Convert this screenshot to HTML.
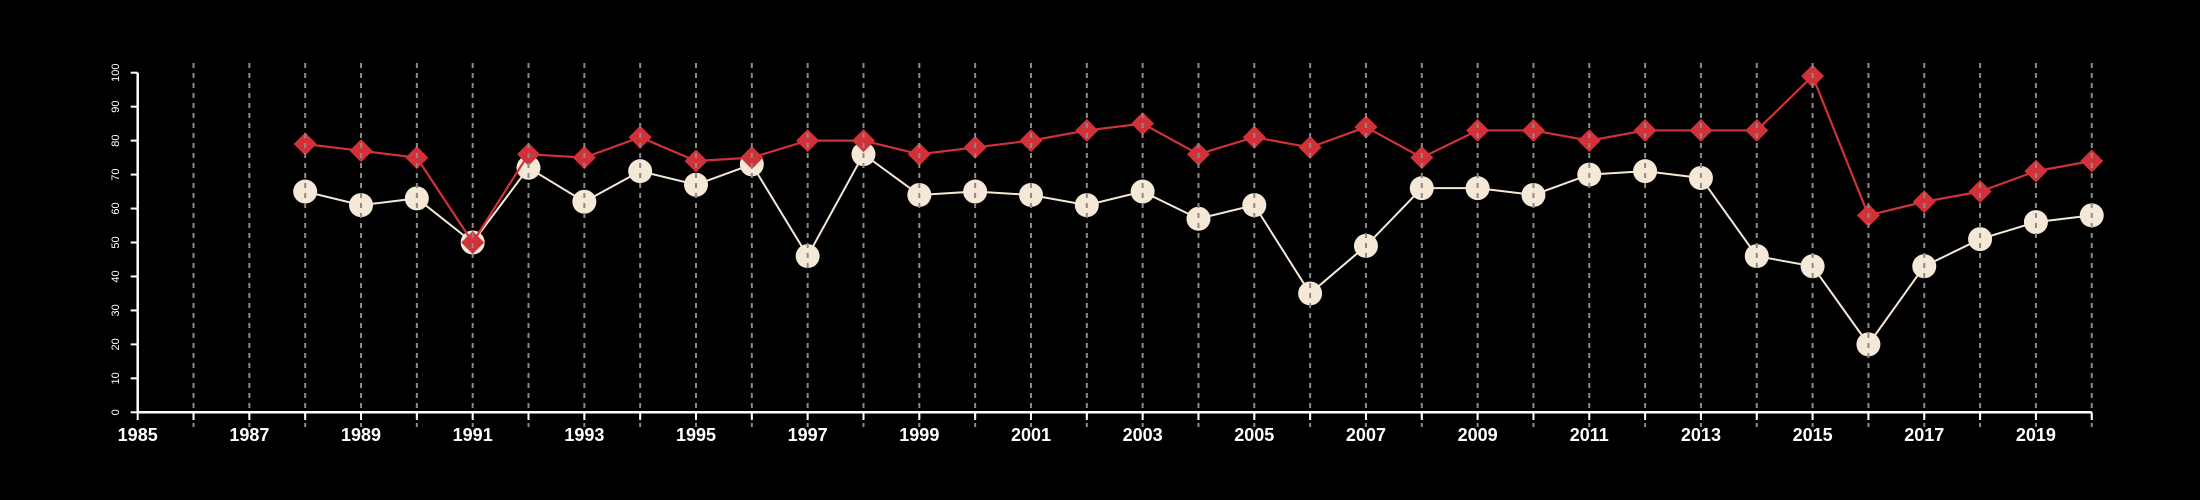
<!DOCTYPE html>
<html><head><meta charset="utf-8"><style>
html,body{margin:0;padding:0;background:#000;}
svg{display:block;}
</style></head><body>
<svg id="chart" width="2200" height="500" xmlns="http://www.w3.org/2000/svg" style="background:#000;font-family:'Liberation Sans',sans-serif;">
<g id="series"></g>
<g id="grid"></g>
<g id="axes"></g>
</svg>
<script>
const years = [1988,1989,1990,1991,1992,1993,1994,1995,1996,1997,1998,1999,2000,2001,2002,2003,2004,2005,2006,2007,2008,2009,2010,2011,2012,2013,2014,2015,2016,2017,2018,2019,2020];
const redValues = [79,77,75,50,76,75,81,74,75,80,80,76,78,80,83,85,76,81,78,84,75,83,83,80,83,83,83,99,58,62,65,71,74];
const whiteValues = [65,61,63,50,72,62,71,67,73,46,76,64,65,64,61,65,57,61,35,49,66,66,64,70,71,69,46,43,20,43,51,56,58];
const xTickLabels = [1985,1987,1989,1991,1993,1995,1997,1999,2001,2003,2005,2007,2009,2011,2013,2015,2017,2019];
const yTickLabels = [0,10,20,30,40,50,60,70,80,90,100];

const NS = 'http://www.w3.org/2000/svg';
const x = yr => 137.7 + (yr - 1985) * 55.83;
const y = v => 412.3 - v * 3.396;
function mk(tag, attrs, parent){const e=document.createElementNS(NS,tag);for(const k in attrs)e.setAttribute(k,attrs[k]);parent.appendChild(e);return e;}
const gS=document.getElementById('series'),gG=document.getElementById('grid'),gA=document.getElementById('axes');

// grid lines
for(let yr=1986; yr<=2020; yr++){
  const l=mk('line',{x1:x(yr),x2:x(yr),y1:63,y2:427,stroke:'#8a8a8a','stroke-width':2,'stroke-dasharray':'5,5'},gG);
  
  
}

// white series
const wp=mk('polyline',{points:years.map((yr,i)=>x(yr)+','+y(whiteValues[i])).join(' '),fill:'none',stroke:'#f6e8d6','stroke-width':2},gS);


years.forEach((yr,i)=>{
  const c=mk('circle',{cx:x(yr),cy:y(whiteValues[i]),r:12,fill:'#f6e8d6'},gS);
  
  
});
// red series
const rp=mk('polyline',{points:years.map((yr,i)=>x(yr)+','+y(redValues[i])).join(' '),fill:'none',stroke:'#d1323a','stroke-width':2.2},gS);


years.forEach((yr,i)=>{
  const cx=x(yr),cy=y(redValues[i]),d=11.5;
  const p=mk('polygon',{points:`${cx},${cy-d} ${cx+d},${cy} ${cx},${cy+d} ${cx-d},${cy}`,fill:'#d1323a'},gS);
  
  
});

// axes
const xa=mk('line',{x1:x(1985),x2:x(2020),y1:412.3,y2:412.3,stroke:'#fff','stroke-width':2.5},gA);


const ya=mk('line',{x1:x(1985),x2:x(1985),y1:y(0),y2:y(100),stroke:'#fff','stroke-width':2.5},gA);


for(let yr=1985; yr<=2020; yr++){
  const t=mk('line',{x1:x(yr),x2:x(yr),y1:412.3,y2:420,stroke:'#fff','stroke-width':2},gA);
  
  
}
xTickLabels.forEach(yr=>{
  const t=mk('text',{x:x(yr),y:441,'text-anchor':'middle',fill:'#fff','font-size':18,'font-weight':'bold'},gA);
  t.textContent=yr;
  
  
});
yTickLabels.forEach(v=>{
  const t=mk('line',{x1:x(1985)-7,x2:x(1985),y1:y(v),y2:y(v),stroke:'#fff','stroke-width':2},gA);
  
  
  const l=mk('text',{x:0,y:0,transform:`translate(119,${y(v)}) rotate(-90)`,'text-anchor':'middle',fill:'#fff','font-size':11},gA);
  l.textContent=v;
  
  
});
</script>
</body></html>
